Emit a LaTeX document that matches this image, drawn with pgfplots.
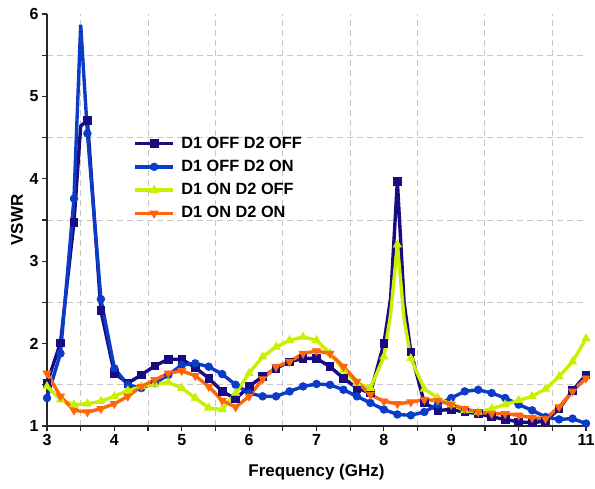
\documentclass[border=0pt]{standalone}
\usepackage{fontspec}
\setmainfont{Liberation Sans}
\usepackage{pgfplots}
\pgfplotsset{compat=1.18}
\usepackage{pgfplotstable}

\definecolor{offoff}{RGB}{24,12,130}
\definecolor{offon}{RGB}{10,60,200}
\definecolor{onoff}{RGB}{200,240,0}
\definecolor{onon}{RGB}{255,102,10}

% D1 OFF D2 OFF (3.5, 8.1 and 8.3 carry no marker)
\pgfplotstableread{
f v
3.0 1.52
3.2 2.01
3.4 3.47
3.5 4.64
3.6 4.71
3.8 2.40
4.0 1.64
4.2 1.52
4.4 1.62
4.6 1.73
4.8 1.81
5.0 1.81
5.2 1.71
5.4 1.58
5.6 1.42
5.8 1.33
6.0 1.48
6.2 1.60
6.4 1.70
6.6 1.78
6.8 1.82
7.0 1.82
7.2 1.72
7.4 1.58
7.6 1.46
7.8 1.40
8.0 2.00
8.1 2.55
8.2 3.97
8.3 2.50
8.4 1.90
8.6 1.28
8.8 1.19
9.0 1.20
9.2 1.17
9.4 1.15
9.6 1.11
9.8 1.08
10.0 1.05
10.2 1.04
10.4 1.06
10.6 1.21
10.8 1.43
11.0 1.62
}\offoff

% D1 OFF D2 ON (3.5 carries no marker)
\pgfplotstableread{
f v
3.0 1.34
3.2 1.88
3.4 3.76
3.5 5.87
3.6 4.55
3.8 2.54
4.0 1.70
4.2 1.50
4.4 1.46
4.6 1.52
4.8 1.62
5.0 1.74
5.2 1.76
5.4 1.72
5.6 1.63
5.8 1.50
6.0 1.40
6.2 1.36
6.4 1.36
6.6 1.42
6.8 1.48
7.0 1.51
7.2 1.50
7.4 1.44
7.6 1.36
7.8 1.28
8.0 1.20
8.2 1.14
8.4 1.13
8.6 1.17
8.8 1.26
9.0 1.34
9.2 1.42
9.4 1.44
9.6 1.40
9.8 1.34
10.0 1.26
10.2 1.19
10.4 1.11
10.6 1.08
10.8 1.09
11.0 1.03
}\offon

% D1 ON D2 OFF (8.1 and 8.3 carry no marker)
\pgfplotstableread{
f v
3.0 1.48
3.2 1.32
3.4 1.26
3.6 1.27
3.8 1.30
4.0 1.36
4.2 1.43
4.4 1.48
4.6 1.51
4.8 1.53
5.0 1.46
5.2 1.34
5.4 1.22
5.6 1.20
5.8 1.40
6.0 1.64
6.2 1.84
6.4 1.96
6.6 2.04
6.8 2.08
7.0 2.04
7.2 1.88
7.4 1.68
7.6 1.52
7.8 1.46
8.0 1.84
8.1 2.35
8.2 3.20
8.3 2.30
8.4 1.82
8.6 1.45
8.8 1.34
9.0 1.26
9.2 1.19
9.4 1.17
9.6 1.21
9.8 1.26
10.0 1.31
10.2 1.36
10.4 1.45
10.6 1.60
10.8 1.78
11.0 2.06
}\onoff

% D1 ON D2 ON
\pgfplotstableread{
f v
3.0 1.64
3.2 1.36
3.4 1.19
3.6 1.17
3.8 1.21
4.0 1.27
4.2 1.36
4.4 1.48
4.6 1.56
4.8 1.64
5.0 1.67
5.2 1.61
5.4 1.48
5.6 1.31
5.8 1.23
6.0 1.36
6.2 1.57
6.4 1.72
6.6 1.78
6.8 1.88
7.0 1.91
7.2 1.88
7.4 1.72
7.6 1.54
7.8 1.38
8.0 1.30
8.2 1.27
8.4 1.29
8.6 1.32
8.8 1.31
9.0 1.26
9.2 1.21
9.4 1.17
9.6 1.15
9.8 1.15
10.0 1.13
10.2 1.10
10.4 1.09
10.6 1.23
10.8 1.42
11.0 1.58
}\onon

\begin{document}
\begin{tikzpicture}
\begin{axis}[
    name=ax,
    scale only axis,
    width=539bp, height=412bp,
    xmin=3, xmax=11, ymin=1, ymax=6,
    xtick={3,...,11}, ytick={1,...,6},
    minor x tick num=1, minor y tick num=1,
    axis lines=left,
    axis line style={-, line width=1.4bp, black!85},
    tick style={line width=1.2bp, black!85},
    tick align=outside,
    major tick length=5bp, minor tick length=5bp,
    grid=minor,
    minor grid style={dash pattern=on 6bp off 4bp, black!22, line width=1bp},
    /pgf/number format/assume math mode=true,
    tick label style={font=\bfseries\fontsize{16bp}{18bp}\selectfont},
    label style={font=\bfseries\fontsize{17bp}{20bp}\selectfont},
    xlabel={Frequency (GHz)},
    ylabel={VSWR},
    xlabel style={at={(axis description cs:0.5,0)}, anchor=center, yshift=-46bp},
    ylabel style={at={(axis description cs:0,0.5)}, anchor=center, yshift=30bp},
    legend style={at={(axis description cs:0.160,0.708)}, anchor=north west,
        draw=none, fill=none, inner sep=0pt, row sep=5.3bp,
        font=\bfseries\fontsize{16.3bp}{19bp}\selectfont,
        nodes={inner sep=1.5bp, text height=12bp, text depth=3bp},
        /tikz/every odd column/.append style={column sep=5bp}},
    legend cell align=left,
    legend image code/.code={
        \draw[mark repeat=2, mark phase=2, #1]
            plot coordinates {(0bp,0bp) (19bp,0bp) (38bp,0bp)};},
]
\addplot[offoff, line width=3.4bp, mark=square*, mark size=3.8bp, mark options={solid, line width=0.8bp},
    mark indices={1,2,3,5,6,...,27,29,31,32,...,44}, forget plot] table[x=f, y=v] {\offoff};
\addplot[offon, line width=3.4bp, mark=*, mark size=3.8bp, mark options={solid, line width=0.8bp},
    mark indices={1,2,3,5,6,...,42}, forget plot] table[x=f, y=v] {\offon};
\addplot[onoff, line width=3.4bp, mark=triangle*, mark size=4.6bp, mark options={solid, line width=0.8bp},
    mark indices={1,...,26,28,30,31,...,43}, forget plot] table[x=f, y=v] {\onoff};
\addplot[onon, line width=3.4bp, mark=triangle*, mark size=4.6bp, mark options={solid, line width=0.8bp, rotate=180},
    forget plot] table[x=f, y=v] {\onon};

\addlegendimage{offoff, line width=3.4bp, mark=square*, mark size=3.8bp, mark options={line width=0.8bp}}
\addlegendentry{D1 OFF D2 OFF}
\addlegendimage{offon, line width=3.4bp, mark=*, mark size=3.8bp, mark options={line width=0.8bp}}
\addlegendentry{D1 OFF D2 ON}
\addlegendimage{onoff, line width=3.4bp, mark=triangle*, mark size=4.6bp, mark options={line width=0.8bp}}
\addlegendentry{D1 ON D2 OFF}
\addlegendimage{onon, line width=3.4bp, mark=triangle*, mark size=4.6bp, mark options={line width=0.8bp, rotate=180}}
\addlegendentry{D1 ON D2 ON}
\end{axis}
\pgfresetboundingbox
\path ([shift={(-47bp,-62bp)}]ax.south west) rectangle ([shift={(9bp,14bp)}]ax.north east);
\end{tikzpicture}
\end{document}
